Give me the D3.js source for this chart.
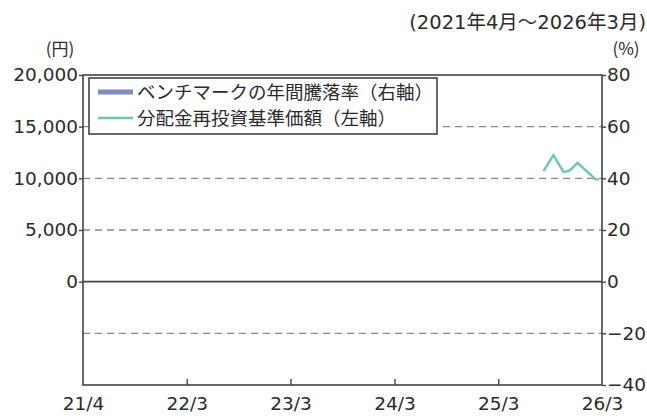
<!DOCTYPE html>
<html>
<head>
<meta charset="utf-8">
<script src="https://cdn.jsdelivr.net/npm/d3@7"></script>
<style>
  body { margin: 0; background: #fff; }
  svg text { font-family: "DejaVu Sans", "Noto Sans CJK JP", sans-serif; fill: #2b2b2b; }
  svg text.jp { font-family: "Noto Sans CJK JP", sans-serif; }
</style>
</head>
<body>
<div id="chart-container"></div>
<script>
// data
const xTickDates = ["2021-03-31", "2022-03-31", "2023-03-31", "2024-03-31", "2025-03-31", "2026-03-31"]
const xTickLabels = ["21/4", "22/3", "23/3", "24/3", "25/3", "26/3"]
const leftTicks = [0, 5000, 10000, 15000, 20000]
const rightTicks = [-40, -20, 0, 20, 40, 60, 80]

// 分配金再投資基準価額 (yen)
const navDates = ["2025-09-06", "2025-10-11", "2025-11-16", "2025-12-07", "2026-01-04", "2026-03-07", "2026-03-20"]
const navValues = [10700, 12250, 10600, 10750, 11500, 9950, 9850]

const margin = { top: 75, right: 45, bottom: 31, left: 83 }
const width = 647 - margin.left - margin.right
const height = 416 - margin.top - margin.bottom

const parseDate = d3.timeParse("%Y-%m-%d")

const svg = d3.select("#chart-container")
  .append("svg")
  .attr("width", 647)
  .attr("height", 416)

const g = svg.append("g")
  .attr("transform", `translate(${margin.left},${margin.top})`)

const x = d3.scaleTime()
  .domain([parseDate(xTickDates[0]), parseDate(xTickDates[xTickDates.length - 1])])
  .range([0, width])

const yR = d3.scaleLinear().domain([-40, 80]).range([height, 0])
const yL = d3.scaleLinear().domain([-10000, 20000]).range([height, 0])

const axisColor = "#444"

// dashed gridlines
g.selectAll(".grid")
  .data(rightTicks.filter(d => d !== -40 && d !== 80 && d !== 0))
  .enter().append("line")
  .attr("x1", 0).attr("x2", width)
  .attr("y1", d => yR(d)).attr("y2", d => yR(d))
  .attr("stroke", "#888")
  .attr("stroke-width", 1.3)
  .attr("stroke-dasharray", "7,5")

// zero line
g.append("line")
  .attr("x1", 0).attr("x2", width)
  .attr("y1", yR(0)).attr("y2", yR(0))
  .attr("stroke", axisColor).attr("stroke-width", 1.6)

// frame
g.append("rect")
  .attr("width", width).attr("height", height)
  .attr("fill", "none")
  .attr("stroke", axisColor).attr("stroke-width", 1.6)

// left axis
const leftAxis = g.append("g")
  .call(d3.axisLeft(yL).tickValues(leftTicks).tickFormat(d3.format(",")).tickSize(4).tickPadding(1))
leftAxis.select(".domain").remove()

// right axis
const rightAxis = g.append("g")
  .attr("transform", `translate(${width},0)`)
  .call(d3.axisRight(yR).tickValues(rightTicks).tickSize(4).tickPadding(1))
rightAxis.select(".domain").remove()

// bottom axis, ticks point inward
const bottomAxis = g.append("g")
  .attr("transform", `translate(0,${height})`)
  .call(d3.axisBottom(x).tickValues(xTickDates.map(parseDate))
    .tickFormat((d, i) => xTickLabels[i]).tickSizeInner(-6).tickSizeOuter(0).tickPadding(12))
bottomAxis.select(".domain").remove()
bottomAxis.selectAll(".tick line").filter((d, i) => i === 0 || i === xTickDates.length - 1).remove()

svg.selectAll(".tick line").attr("stroke", axisColor).attr("stroke-width", 1.4)
svg.selectAll(".tick text").style("font-size", "18.5px").attr("fill", "#2b2b2b")

// line
const navData = navDates.map((d, i) => ({ date: parseDate(d), value: navValues[i] }))
g.append("path")
  .datum(navData)
  .attr("fill", "none")
  .attr("stroke", "#6cc6b6")
  .attr("stroke-width", 2.4)
  .attr("stroke-linejoin", "round")
  .attr("d", d3.line().x(d => x(d.date)).y(d => yL(d.value)))

// legend
const legend = g.append("g").attr("transform", "translate(6,3)")
legend.append("rect")
  .attr("width", 348).attr("height", 56)
  .attr("fill", "#fff")
  .attr("stroke", axisColor).attr("stroke-width", 1.6)
legend.append("line")
  .attr("x1", 9).attr("x2", 44).attr("y1", 14).attr("y2", 14)
  .attr("stroke", "#7f8cc2").attr("stroke-width", 5)
legend.append("line")
  .attr("x1", 9).attr("x2", 44).attr("y1", 40).attr("y2", 40)
  .attr("stroke", "#6cc6b6").attr("stroke-width", 2.4)
legend.append("text")
  .attr("class", "jp")
  .attr("x", 48).attr("y", 14).attr("dy", "0.36em")
  .style("font-size", "18.5px")
  .text("ベンチマークの年間騰落率（右軸）")
legend.append("text")
  .attr("class", "jp")
  .attr("x", 48).attr("y", 40).attr("dy", "0.36em")
  .style("font-size", "18.5px")
  .text("分配金再投資基準価額（左軸）")

// unit labels and period
svg.append("text")
  .attr("class", "jp")
  .attr("x", 60).attr("y", 55)
  .attr("text-anchor", "middle")
  .style("font-size", "17px")
  .text("(円)")

svg.append("text")
  .attr("class", "jp")
  .attr("x", 626).attr("y", 55)
  .attr("text-anchor", "middle")
  .style("font-size", "17px")
  .text("(%)")

svg.append("text")
  .attr("x", 646).attr("y", 29)
  .attr("text-anchor", "end")
  .style("font-size", "19.5px")
  .text("(2021年4月～2026年3月)")
</script>
</body>
</html>
